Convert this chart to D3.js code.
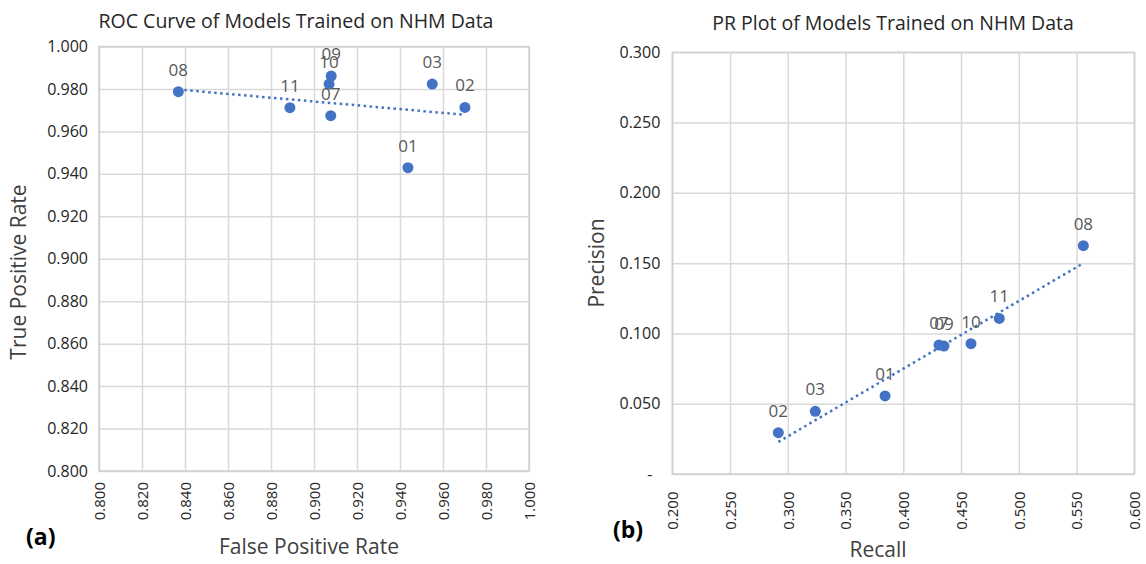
<!DOCTYPE html>
<html lang="en">
<head>
<meta charset="utf-8">
<style>
    body { margin: 0; background: #fff; }
    #mainSVG { display: block; }
    .grid line { stroke: #d9d9d9; stroke-width: 1.5; }
    .grid .domain { display: none; }
    .ticks .domain { display: none; }
    .ticks text { fill: #262626; }
</style>
<script src="https://cdn.jsdelivr.net/npm/d3@7"></script>
</head>
<body>
<svg id="mainSVG" width="1146" height="564"></svg>
<script>

    // models, in the same order for both panels
    var models = ["01", "02", "03", "07", "08", "09", "10", "11"];

    // (a) ROC
    var rocFPR = [0.9437, 0.9702, 0.9550, 0.9078, 0.8369, 0.9080, 0.9070, 0.8888];
    var rocTPR = [0.9429, 0.9713, 0.9823, 0.9674, 0.9787, 0.9861, 0.9823, 0.9712];
    var rocTicks = [0.80, 0.82, 0.84, 0.86, 0.88, 0.90, 0.92, 0.94, 0.96, 0.98, 1.00];

    // (b) PR
    var prRecall = [0.3842, 0.2918, 0.3238, 0.4309, 0.5559, 0.4352, 0.4586, 0.4831];
    var prPrecision = [0.0555, 0.0294, 0.0446, 0.0917, 0.1624, 0.0910, 0.0927, 0.1107];
    var prXTicks = [0.20, 0.25, 0.30, 0.35, 0.40, 0.45, 0.50, 0.55, 0.60];
    var prYTicks = [0, 0.05, 0.10, 0.15, 0.20, 0.25, 0.30];

    var FONT = "'Open Sans', sans-serif";
    var BLUE = "#4472C4";
    var svg = d3.select("#mainSVG");

    function fitLine(xs, ys) {
        var mx = d3.mean(xs), my = d3.mean(ys);
        var sxy = d3.sum(xs, function (v, i) { return (v - mx) * (ys[i] - my); });
        var sxx = d3.sum(xs, function (v) { return (v - mx) * (v - mx); });
        var b = sxy / sxx;
        return function (v) { return my + b * (v - mx); };
    }

    function drawPanel(p) {
        var x = d3.scaleLinear().domain(p.xDomain).range([p.left, p.right]);
        var y = d3.scaleLinear().domain(p.yDomain).range([p.bottom, p.top]);
        var g = svg.append("g");

        // gridlines
        g.append("g").attr("class", "grid")
            .attr("transform", "translate(0," + p.bottom + ")")
            .call(d3.axisBottom(x).tickValues(p.xTicks).tickSize(-(p.bottom - p.top)).tickFormat(""));
        g.append("g").attr("class", "grid")
            .attr("transform", "translate(" + p.left + ",0)")
            .call(d3.axisLeft(y).tickValues(p.yTicks).tickSize(-(p.right - p.left)).tickFormat(""));

        // tick labels (font set after the axis call, which writes its own)
        var ya = g.append("g").attr("class", "ticks")
            .attr("transform", "translate(" + p.left + ",0)")
            .call(d3.axisLeft(y).tickValues(p.yTicks).tickSize(0).tickPadding(p.yPad)
                .tickFormat(function (v) { return v === 0 ? "-" : d3.format(".3f")(v); }))
            .attr("font-family", FONT).attr("font-size", 16);
        ya.selectAll("text").filter(function (v) { return v === 0; }).attr("dx", -8);

        var xa = g.append("g").attr("class", "ticks")
            .attr("transform", "translate(0," + p.bottom + ")")
            .call(d3.axisBottom(x).tickValues(p.xTicks).tickSize(0).tickFormat(d3.format(".3f")))
            .attr("font-family", FONT).attr("font-size", 15);
        xa.selectAll("text")
            .attr("transform", "rotate(-90)")
            .attr("text-anchor", "end")
            .attr("x", -p.xPad)
            .attr("y", 0)
            .attr("dy", "0.35em");

        // trendline
        var f = fitLine(p.xs, p.ys);
        var ext = d3.extent(p.xs);
        g.append("line")
            .attr("x1", x(ext[0])).attr("y1", y(f(ext[0])))
            .attr("x2", x(ext[1])).attr("y2", y(f(ext[1])))
            .attr("stroke", BLUE).attr("stroke-width", 2.5)
            .attr("stroke-dasharray", "2.5,3.5");

        // points
        var idx = d3.range(models.length);
        g.selectAll("circle.pt").data(idx).enter().append("circle")
            .attr("cx", function (i) { return x(p.xs[i]); })
            .attr("cy", function (i) { return y(p.ys[i]); })
            .attr("r", 5.5)
            .attr("fill", BLUE);

        g.selectAll("text.lbl").data(idx).enter().append("text")
            .attr("x", function (i) { return x(p.xs[i]); })
            .attr("y", function (i) { return y(p.ys[i]) - 16; })
            .attr("text-anchor", "middle")
            .attr("font-family", FONT).attr("font-size", 17)
            .attr("fill", "#595959")
            .text(function (i) { return models[i]; });

        // titles
        g.append("text")
            .attr("x", p.titleX).attr("y", p.titleY)
            .attr("text-anchor", "middle")
            .attr("font-family", FONT).attr("font-size", 19.5)
            .attr("fill", "#262626")
            .text(p.title);

        g.append("text")
            .attr("x", p.xLabelX).attr("y", p.xLabelY)
            .attr("text-anchor", "middle")
            .attr("font-family", FONT).attr("font-size", 21)
            .attr("fill", "#404040")
            .text(p.xLabel);

        g.append("text")
            .attr("transform", "translate(" + p.yLabelX + "," + p.yLabelY + ") rotate(-90)")
            .attr("text-anchor", "middle")
            .attr("font-family", FONT).attr("font-size", 21)
            .attr("fill", "#404040")
            .text(p.yLabel);

        g.append("text")
            .attr("x", p.tagX).attr("y", p.tagY)
            .attr("font-family", FONT).attr("font-size", 23)
            .attr("font-weight", "bold")
            .attr("fill", "#000")
            .text(p.tag);

        // plot border
        g.append("rect")
            .attr("x", p.left).attr("y", p.top)
            .attr("width", p.right - p.left).attr("height", p.bottom - p.top)
            .attr("fill", "none").attr("stroke", "#d0d0d0").attr("stroke-width", 1.5);
    }

    drawPanel({
        xs: rocFPR, ys: rocTPR,
        xDomain: [0.8, 1.0], yDomain: [0.8, 1.0],
        xTicks: rocTicks, yTicks: rocTicks,
        left: 99, right: 529, top: 46.5, bottom: 471,
        yPad: 11, xPad: 11,
        title: "ROC Curve of Models Trained on NHM Data", titleX: 296, titleY: 28,
        xLabel: "False Positive Rate", xLabelX: 309, xLabelY: 554,
        yLabel: "True Positive Rate", yLabelX: 26, yLabelY: 272,
        tag: "(a)", tagX: 26, tagY: 545
    });

    drawPanel({
        xs: prRecall, ys: prPrecision,
        xDomain: [0.2, 0.6], yDomain: [0, 0.3],
        xTicks: prXTicks, yTicks: prYTicks,
        left: 672.3, right: 1134.3, top: 52.3, bottom: 474,
        yPad: 12, xPad: 17.5,
        title: "PR Plot of Models Trained on NHM Data", titleX: 893, titleY: 30,
        xLabel: "Recall", xLabelX: 878, xLabelY: 557,
        yLabel: "Precision", yLabelX: 604, yLabelY: 263,
        tag: "(b)", tagX: 613, tagY: 538
    });

</script>
</body>
</html>
